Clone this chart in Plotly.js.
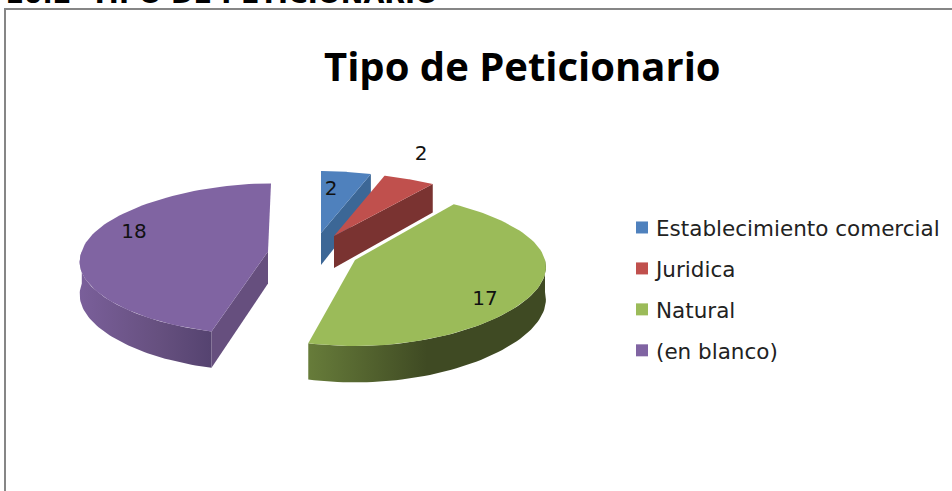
<!DOCTYPE html>
<html><head><meta charset="utf-8">
<script src="https://cdn.plot.ly/plotly-3.0.1.min.js"></script>
<style>html,body{margin:0;padding:0;background:#fff;overflow:hidden}</style>
</head><body><div id="chart" style="width:952px;height:491px"></div>
<script>
var categories = ['Establecimiento comercial', 'Juridica', 'Natural', '(en blanco)'];
var values = [2, 2, 17, 18];
var topColors = ['#4f81bd', '#c0504d', '#9bbb59', '#8064a2'];
var cutColors = ['#3c6796', '#7a3331', null, '#664f7e'];
var wallStops = [null, null,
  [[0, '#677c3a'], [0.5, '#3f4a23'], [1, '#3f4a23']],
  [[0, '#7a5f9a'], [0.6, '#66507f'], [1, '#554370']]];
var cutEdge = ['end', 'end', null, 'start'];
/* exploded-slice apex of each wedge, in page pixels */
var apexX = [321, 334, 355, 268];
var apexY = [233, 236, 260, 251.5];
var skew = [0, 0, 0, 1];
var radiusScale = [1, 1, 1, 0.98];
var backScale = [0.91, 0.93, 1, 1];
var frontScale = [1, 1, 1, 0.96];
var labelDX = [10, 87, 130, -134];
var labelDY = [-43, -81, 40, -19];

var total = values.reduce(function (a, b) { return a + b; }, 0);
function project(i, r, t) {
  var x = r * Math.sin(t), y = -r * Math.cos(t);
  var a = (190 + 20 * y - 15 * y * y) * radiusScale[i];
  var sk = skew[i] * (y > 0 ? -11 * y : -3 * y);
  var dy = y * (77 + 9 * y) * (y < 0 ? backScale[i] : frontScale[i]);
  return [apexX[i] + a * x + sk, apexY[i] + dy, 32 + 4.5 * y];
}
function poly(pts, extra) {
  var tr = { type: 'scatter', mode: 'lines', x: pts.map(function (p) { return p[0]; }),
    y: pts.map(function (p) { return p[1]; }), fill: 'toself', line: { width: 0 },
    hoverinfo: 'skip', showlegend: false };
  for (var k in extra) tr[k] = extra[k];
  return tr;
}
var traces = [];
var cum = 0;
values.forEach(function (v, i) {
  var t0 = cum / total * 2 * Math.PI; cum += v;
  var t1 = cum / total * 2 * Math.PI;
  var H = Math.PI / 2, lo = Math.max(t0, H), hi = Math.min(t1, 3 * H);
  if (hi > lo && wallStops[i]) {
    var rim = [], n = 60, j;
    for (j = 0; j <= n; j++) rim.push(project(i, 1, lo + (hi - lo) * j / n));
    var back = rim.slice().reverse().map(function (p) { return [p[0], p[1] + p[2]]; });
    traces.push(poly(rim.concat(back), { fillgradient: { type: 'horizontal', colorscale: wallStops[i] } }));
  }
  if (cutEdge[i]) {
    var tip = project(i, 1, cutEdge[i] === 'end' ? t1 : t0);
    traces.push(poly([[apexX[i], apexY[i]], tip, [tip[0], tip[1] + tip[2]], [apexX[i], apexY[i] + 32]],
      { fillcolor: cutColors[i] }));
  }
  var face = [[apexX[i], apexY[i]]];
  for (var m = 0; m <= 80; m++) face.push(project(i, 1, t0 + (t1 - t0) * m / 80));
  traces.push(poly(face, { fillcolor: topColors[i] }));
});
traces.push({ type: 'scatter', mode: 'text', hoverinfo: 'skip', showlegend: false,
  x: apexX.map(function (x, i) { return x + labelDX[i]; }),
  y: apexY.map(function (y, i) { return y + labelDY[i]; }),
  text: values.map(String), textposition: 'middle center',
  textfont: { family: 'DejaVu Sans', size: 20, color: '#111' } });
categories.forEach(function (c, i) {
  traces.push({ type: 'scatter', mode: 'markers', x: [null], y: [null], name: c, legendgroup: c,
    marker: { symbol: 'square', size: 14, color: topColors[i] }, hoverinfo: 'skip' });
});
var layout = {
  width: 952, height: 491, margin: { l: 0, r: 0, t: 0, b: 0 },
  paper_bgcolor: '#fff', plot_bgcolor: '#fff',
  xaxis: { range: [0, 952], visible: false, fixedrange: true },
  yaxis: { range: [491, 0], visible: false, fixedrange: true },
  showlegend: true,
  legend: { x: 616 / 952, xanchor: 'left', y: 1 - 207 / 491, yanchor: 'top', traceorder: 'grouped',
    tracegroupgap: 10, itemsizing: 'constant', bgcolor: 'rgba(0,0,0,0)',
    font: { family: 'DejaVu Sans', size: 21.5, color: '#222' } },
  shapes: [{ type: 'rect', xref: 'x', yref: 'y', x0: 5, y0: 9, x1: 1100, y1: 1100,
    line: { color: '#868686', width: 2 }, fillcolor: 'rgba(0,0,0,0)' }],
  annotations: [
    { xref: 'x', yref: 'y', x: 522, y: 65.5, showarrow: false, xanchor: 'center', yanchor: 'middle',
      text: '<b>Tipo de Peticionario</b>', font: { family: 'Open Sans', size: 40, color: '#000' } },
    { xref: 'paper', yref: 'paper', x: 3 / 952, y: 1 + 7 / 491, showarrow: false, xanchor: 'left', yanchor: 'middle',
      text: '<b>10.2  TIPO DE PETICIONARIO</b>', font: { family: 'DejaVu Sans', size: 27, color: '#000' } }
  ]
};
Plotly.newPlot('chart', traces, layout, { displayModeBar: false, staticPlot: true }).then(function (gd) {
  gd.querySelectorAll('.legendsymbols').forEach(function (n) { n.setAttribute('transform', 'translate(6,0)'); });
});
</script></body></html>
